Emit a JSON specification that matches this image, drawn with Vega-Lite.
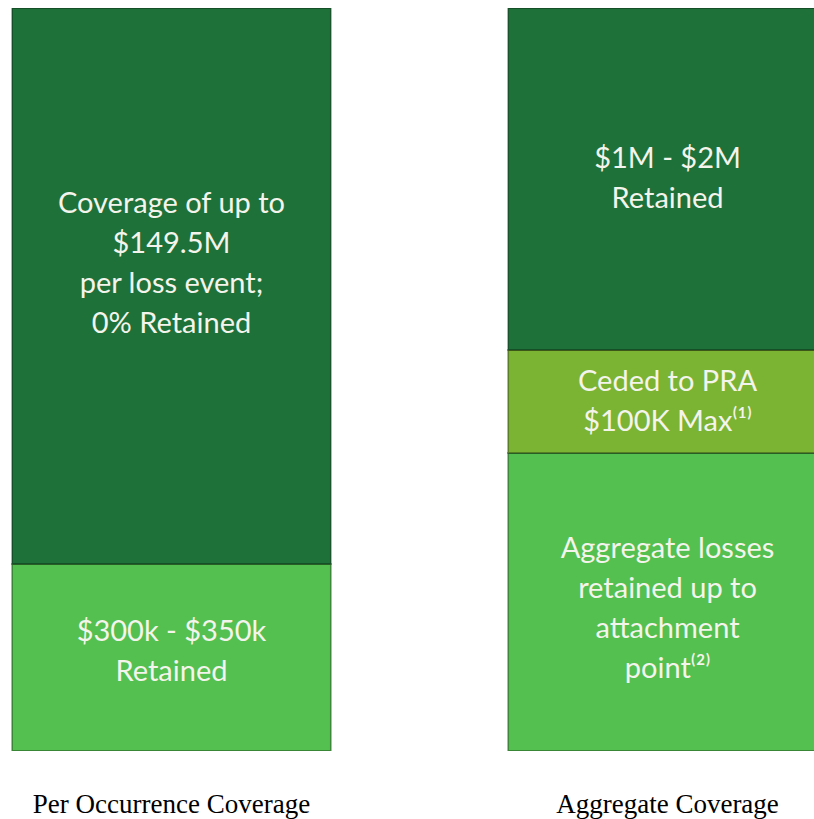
{
  "$schema": "https://vega.github.io/schema/vega-lite/v6.json",
  "width": 814,
  "height": 743,
  "autosize": {"type": "none"},
  "padding": {"left": 0, "right": 0, "top": 8, "bottom": 68},
  "background": "white",
  "config": {"view": {"stroke": null}},
  "data": {
    "values": [
      {"bar": "Per Occurrence Coverage", "order": 1, "segment": "retained", "value": 187, "label": "$300k - $350k\nRetained"},
      {"bar": "Per Occurrence Coverage", "order": 2, "segment": "covered", "value": 556, "label": "Coverage of up to\n$149.5M\nper loss event;\n0% Retained"},
      {"bar": "Aggregate Coverage", "order": 1, "segment": "retained", "value": 298, "label": "Aggregate losses\nretained up to\nattachment\npoint⁽²⁾"},
      {"bar": "Aggregate Coverage", "order": 2, "segment": "ceded", "value": 103, "label": "Ceded to PRA\n$100K Max⁽¹⁾"},
      {"bar": "Aggregate Coverage", "order": 3, "segment": "covered", "value": 342, "label": "$1M - $2M\nRetained"}
    ]
  },
  "transform": [
    {"stack": "value", "groupby": ["bar"], "sort": [{"field": "order", "order": "ascending"}], "as": ["y0", "y1"]},
    {"calculate": "(datum.y0 + datum.y1) / 2", "as": "mid"}
  ],
  "encoding": {
    "x": {
      "field": "bar",
      "type": "nominal",
      "sort": ["Per Occurrence Coverage", "Aggregate Coverage"],
      "scale": {"range": [0, 839], "paddingInner": 0.357, "paddingOuter": 0.0242},
      "axis": {
        "title": null,
        "domain": false,
        "ticks": false,
        "tickSize": 0,
        "labelAngle": 0,
        "labelPadding": 61,
        "labelLimit": 0,
        "labelBaseline": "alphabetic",
        "labelFont": "Liberation Serif",
        "labelFontSize": 27,
        "labelColor": "#000000"
      }
    }
  },
  "layer": [
    {
      "mark": {"type": "bar", "clip": true, "stroke": "#000000", "strokeOpacity": 0.3, "strokeWidth": 2},
      "encoding": {
        "y": {"field": "y0", "type": "quantitative", "scale": {"domain": [0, 743], "nice": false, "zero": true}, "axis": null},
        "y2": {"field": "y1"},
        "color": {
          "field": "segment",
          "type": "nominal",
          "scale": {"domain": ["retained", "ceded", "covered"], "range": ["#53C04F", "#7BB333", "#1E7138"]},
          "legend": null
        }
      }
    },
    {
      "transform": [{"filter": "datum.bar == 'Aggregate Coverage' && datum.segment != 'retained'"}],
      "mark": {"type": "text", "font": "Lato", "fontSize": 29, "color": "#F4F4EC", "lineBreak": "\n", "lineHeight": 40, "baseline": "middle", "align": "center", "dy": -20},
      "encoding": {
        "y": {"field": "mid", "type": "quantitative"},
        "text": {"field": "label"}
      }
    },
    {
      "transform": [{"filter": "datum.bar == 'Per Occurrence Coverage' && datum.segment == 'retained'"}],
      "mark": {"type": "text", "font": "Lato", "fontSize": 29, "color": "#F4F4EC", "lineBreak": "\n", "lineHeight": 40, "baseline": "middle", "align": "center", "dy": -26},
      "encoding": {
        "y": {"field": "mid", "type": "quantitative"},
        "text": {"field": "label"}
      }
    },
    {
      "transform": [{"filter": "datum.bar == 'Aggregate Coverage' && datum.segment == 'retained'"}],
      "mark": {"type": "text", "font": "Lato", "fontSize": 29, "color": "#F4F4EC", "lineBreak": "\n", "lineHeight": 40, "baseline": "middle", "align": "center", "dy": -53},
      "encoding": {
        "y": {"field": "mid", "type": "quantitative"},
        "text": {"field": "label"}
      }
    },
    {
      "transform": [{"filter": "datum.bar == 'Per Occurrence Coverage' && datum.segment == 'covered'"}],
      "mark": {"type": "text", "font": "Lato", "fontSize": 29, "color": "#F4F4EC", "lineBreak": "\n", "lineHeight": 40, "baseline": "middle", "align": "center", "dy": -82},
      "encoding": {
        "y": {"field": "mid", "type": "quantitative"},
        "text": {"field": "label"}
      }
    }
  ]
}
